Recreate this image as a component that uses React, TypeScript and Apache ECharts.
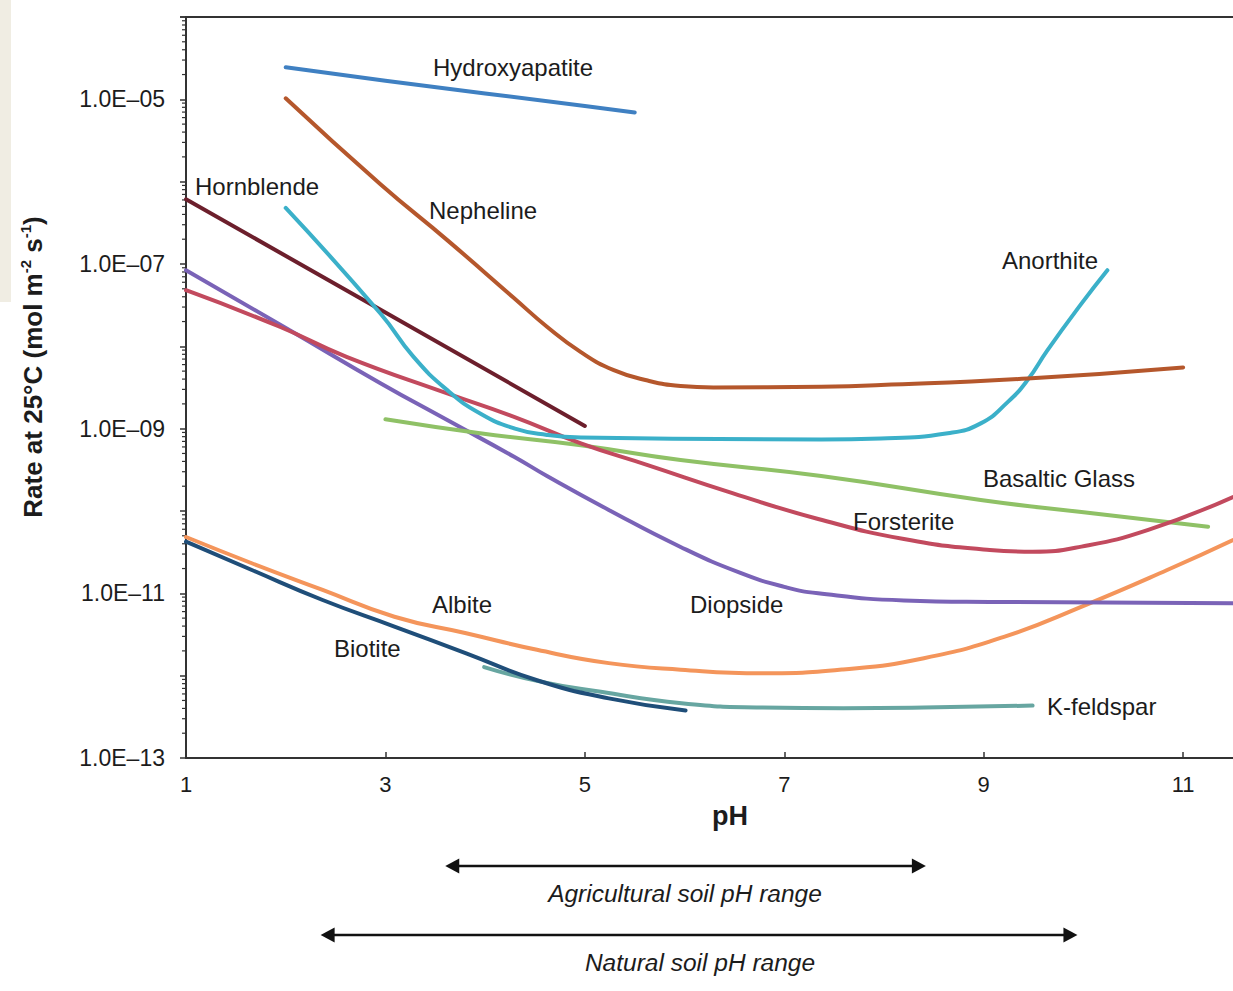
import React, { useEffect, useRef } from "react";
import * as echarts from "echarts";

// ---------- data ----------
const X_TICKS = [1, 3, 5, 7, 9, 11];
const Y_LABEL_EXPONENTS = [-13, -11, -9, -7, -5];
const Y_DECADE_EXPONENTS = [-13, -12, -11, -10, -9, -8, -7, -6, -5];
const Y_MINOR_MULTIPLIERS = [2, 3, 4, 5, 6, 7, 8, 9];

const HYDROXYAPATITE_PH = [2, 3, 4, 5, 5.5];
const HYDROXYAPATITE_RATE = [2.45e-5, 1.68e-5, 1.18e-5, 8.3e-6, 6.9e-6];

const NEPHELINE_PH = [2, 2.95, 3.62, 4.28, 4.62, 4.96, 5.29, 5.63, 5.96, 6.29, 7.37, 7.97, 9.44, 11];
const NEPHELINE_RATE = [1.03e-5, 9.3e-7, 1.95e-7, 3.95e-8, 1.73e-8, 8.5e-9, 5.14e-9, 3.84e-9, 3.3e-9, 3.17e-9, 3.23e-9, 3.38e-9, 4.07e-9, 5.55e-9];

const HORNBLENDE_PH = [1, 3, 5];
const HORNBLENDE_RATE = [6.1e-7, 2.58e-8, 1.08e-9];

const ANORTHITE_PH = [2, 2.95, 3.28, 3.62, 3.95, 4.29, 4.62, 4.96, 7.37, 7.97, 8.64, 8.97, 9.24, 9.44, 9.64, 9.98, 10.24];
const ANORTHITE_RATE = [4.8e-7, 2.5e-8, 7.5e-9, 2.94e-9, 1.53e-9, 1.01e-9, 8.4e-10, 7.8e-10, 7.4e-10, 7.6e-10, 8.8e-10, 1.16e-9, 2.1e-9, 3.9e-9, 9.0e-9, 3.3e-8, 8.4e-8];

const FORSTERITE_PH = [1, 1.94, 2.61, 3.62, 4.29, 4.96, 5.63, 6.48, 7.34, 8.2, 9.06, 9.49, 9.98, 10.65, 11.5];
const FORSTERITE_RATE = [4.8e-8, 1.73e-8, 7.46e-9, 2.68e-9, 1.39e-9, 6.63e-10, 3.61e-10, 1.65e-10, 8.0e-11, 4.57e-11, 3.36e-11, 3.2e-11, 3.69e-11, 5.9e-11, 1.48e-10];

const DIOPSIDE_PH = [1, 2.04, 2.95, 3.62, 4.29, 4.62, 5.24, 5.96, 6.56, 7, 7.34, 8.2, 9.06, 11.5];
const DIOPSIDE_RATE = [8.4e-8, 1.57e-8, 3.57e-9, 1.27e-9, 4.56e-10, 2.66e-10, 1.03e-10, 3.66e-11, 1.77e-11, 1.2e-11, 1.0e-11, 8.2e-12, 7.87e-12, 7.6e-12];

const BASALTIC_GLASS_PH = [3, 3.95, 4.96, 5.96, 7.37, 8.97, 9.98, 11.25];
const BASALTIC_GLASS_RATE = [1.3e-9, 8.8e-10, 6.3e-10, 4.16e-10, 2.66e-10, 1.36e-10, 9.7e-11, 6.45e-11];

const ALBITE_PH = [1, 1.66, 2.37, 3.09, 3.81, 4.52, 5.24, 5.96, 6.78, 7.59, 8.4, 9.21, 10.02, 10.84, 11.5];
const ALBITE_RATE = [4.83e-11, 2.32e-11, 1.1e-11, 5.2e-12, 3.28e-12, 2.06e-12, 1.42e-12, 1.18e-12, 1.07e-12, 1.19e-12, 1.63e-12, 2.98e-12, 7.2e-12, 1.92e-11, 4.45e-11];

const BIOTITE_PH = [1, 1.66, 2.37, 3.09, 3.81, 4.52, 5.24, 6.01];
const BIOTITE_RATE = [4.24e-11, 1.92e-11, 8.3e-12, 3.95e-12, 1.87e-12, 8.8e-13, 5.3e-13, 3.77e-13];

const K_FELDSPAR_PH = [3.99, 4.52, 5.16, 5.97, 6.78, 7.59, 8.4, 9.49];
const K_FELDSPAR_RATE = [1.27e-12, 8.65e-13, 6.36e-13, 4.63e-13, 4.1e-13, 4.03e-13, 4.1e-13, 4.33e-13];

const AGRICULTURAL_RANGE = [3.6, 8.42];
const NATURAL_RANGE = [2.35, 9.94];

// ---------- styles ----------
const FONT = "'Liberation Sans', Arial, Helvetica, sans-serif";
const AXIS_COLOR = "#333333";
const TEXT_COLOR = "#1c1c1c";

const SERIES_DEFS = [
  { name: "K-feldspar", ph: K_FELDSPAR_PH, rate: K_FELDSPAR_RATE, color: "#67a6a1", smooth: 0.5 },
  { name: "Biotite", ph: BIOTITE_PH, rate: BIOTITE_RATE, color: "#1f4e79", smooth: 0.5 },
  { name: "Albite", ph: ALBITE_PH, rate: ALBITE_RATE, color: "#f4955b", smooth: 0.5 },
  { name: "Diopside", ph: DIOPSIDE_PH, rate: DIOPSIDE_RATE, color: "#7a63b7", smooth: 0.5 },
  { name: "Basaltic Glass", ph: BASALTIC_GLASS_PH, rate: BASALTIC_GLASS_RATE, color: "#8fc166", smooth: 0.5 },
  { name: "Forsterite", ph: FORSTERITE_PH, rate: FORSTERITE_RATE, color: "#c24a5e", smooth: 0.5 },
  { name: "Hornblende", ph: HORNBLENDE_PH, rate: HORNBLENDE_RATE, color: "#6c1f2c", smooth: false },
  { name: "Anorthite", ph: ANORTHITE_PH, rate: ANORTHITE_RATE, color: "#3bb0c9", smooth: 0.5 },
  { name: "Nepheline", ph: NEPHELINE_PH, rate: NEPHELINE_RATE, color: "#b5572c", smooth: 0.5 },
  { name: "Hydroxyapatite", ph: HYDROXYAPATITE_PH, rate: HYDROXYAPATITE_RATE, color: "#3f80c2", smooth: false },
];

const LABEL_POSITIONS: Array<[string, number, number]> = [
  ["Hydroxyapatite", 433, 67],
  ["Hornblende", 195, 186],
  ["Nepheline", 429, 210],
  ["Anorthite", 1002, 260],
  ["Basaltic Glass", 983, 478],
  ["Forsterite", 853, 521],
  ["Albite", 432, 604],
  ["Diopside", 690, 604],
  ["Biotite", 334, 648],
  ["K-feldspar", 1047, 706],
];

function formatYLabel(value: number): string {
  const e = Math.round(Math.log10(value));
  if (Y_LABEL_EXPONENTS.indexOf(e) < 0) return "";
  return "1.0E\u2013" + String(-e).padStart(2, "0");
}

export default function App() {
  const ref = useRef<HTMLDivElement>(null);

  useEffect(() => {
    if (!ref.current) return;
    const chart = echarts.init(ref.current, null, { renderer: "svg" });

    const minorTicks: number[][] = [];
    Y_DECADE_EXPONENTS.forEach((e) => {
      Y_MINOR_MULTIPLIERS.forEach((m) => minorTicks.push([1, m * Math.pow(10, e)]));
    });

    const lineSeries = SERIES_DEFS.map((s) => ({
      type: "line",
      name: s.name,
      data: s.ph.map((p, i) => [p, s.rate[i]]),
      showSymbol: false,
      symbol: "none",
      smooth: s.smooth,
      lineStyle: { color: s.color, width: 4, cap: "round", join: "round" },
      itemStyle: { color: s.color },
      silent: true,
      z: 3,
    }));

    const option: any = {
      animation: false,
      backgroundColor: "#ffffff",
      grid: { left: 186, top: 17, width: 1047, height: 741, outerBoundsMode: "none", containLabel: false },
      xAxis: [
        {
          type: "value",
          min: 1,
          max: 11.5,
          interval: 2,
          axisLine: { show: true, onZero: false, lineStyle: { color: AXIS_COLOR, width: 2 } },
          axisTick: {
            show: true,
            inside: true,
            length: 6,
            customValues: X_TICKS,
            lineStyle: { color: AXIS_COLOR, width: 1.5 },
          },
          axisLabel: {
            show: true,
            customValues: X_TICKS,
            margin: 15,
            fontSize: 22,
            fontFamily: FONT,
            color: TEXT_COLOR,
          },
          splitLine: { show: false },
        },
        {
          type: "value",
          position: "top",
          min: 1,
          max: 11.5,
          axisLine: { show: true, onZero: false, lineStyle: { color: AXIS_COLOR, width: 2 } },
          axisTick: { show: false },
          axisLabel: { show: false },
          splitLine: { show: false },
        },
      ],
      yAxis: {
        type: "log",
        logBase: 10,
        min: 1e-13,
        max: 1e-4,
        axisLine: { show: true, onZero: false, lineStyle: { color: AXIS_COLOR, width: 2 } },
        axisTick: { show: true, inside: false, length: 6, lineStyle: { color: AXIS_COLOR, width: 1.5 } },
        axisLabel: {
          show: true,
          margin: 21,
          fontSize: 23,
          fontFamily: FONT,
          color: TEXT_COLOR,
          formatter: formatYLabel,
        },
        splitLine: { show: false },
        minorTick: { show: false },
      },
      series: [
        {
          type: "custom",
          name: "minorTicks",
          silent: true,
          clip: false,
          z: 1,
          data: minorTicks,
          renderItem: (params: any, api: any) => {
            const c = api.coord([api.value(0), api.value(1)]);
            return {
              type: "line",
              shape: { x1: c[0] - 4, y1: c[1], x2: c[0], y2: c[1] },
              style: { stroke: AXIS_COLOR, lineWidth: 1.2 },
            };
          },
        },
        ...lineSeries,
      ],
    };

    chart.setOption(option);

    const px = (v: number) => chart.convertToPixel({ xAxisIndex: 0 }, v) as number;

    const arrow = (range: number[], y: number) => {
      const x1 = px(range[0]);
      const x2 = px(range[1]);
      const head = 14;
      const half = 7.5;
      return [
        {
          type: "line",
          shape: { x1: x1 + head - 2, y1: y, x2: x2 - head + 2, y2: y },
          style: { stroke: "#111111", lineWidth: 2.5 },
          silent: true,
        },
        {
          type: "polygon",
          shape: { points: [[x1, y], [x1 + head, y - half], [x1 + head, y + half]] },
          style: { fill: "#111111" },
          silent: true,
        },
        {
          type: "polygon",
          shape: { points: [[x2, y], [x2 - head, y - half], [x2 - head, y + half]] },
          style: { fill: "#111111" },
          silent: true,
        },
      ];
    };

    const labelGraphics = LABEL_POSITIONS.map(([text, x, y]) => ({
      type: "text",
      x,
      y,
      silent: true,
      style: {
        text,
        fontSize: 24,
        fontFamily: FONT,
        fill: TEXT_COLOR,
        textAlign: "left",
        textVerticalAlign: "middle",
      },
      z: 10,
    }));

    chart.setOption({
      graphic: [
        {
          type: "rect",
          shape: { x: 0, y: 0, width: 11, height: 302 },
          style: { fill: "#f0ede3" },
          silent: true,
          z: 0,
        },
        ...labelGraphics,
        {
          type: "text",
          x: 33,
          y: 367,
          rotation: Math.PI / 2,
          silent: true,
          style: {
            text: "Rate at 25°C (mol m{sup|-2} s{sup|-1})",
            fontSize: 26,
            fontWeight: "bold",
            fontFamily: FONT,
            fill: TEXT_COLOR,
            textAlign: "center",
            textVerticalAlign: "middle",
            rich: {
              sup: {
                fontSize: 15,
                fontWeight: "bold",
                fontFamily: FONT,
                fill: TEXT_COLOR,
                verticalAlign: "top",
                lineHeight: 30,
              },
            },
          },
        },
        {
          type: "text",
          x: 730,
          y: 816,
          silent: true,
          style: {
            text: "pH",
            fontSize: 27,
            fontWeight: "bold",
            fontFamily: FONT,
            fill: TEXT_COLOR,
            textAlign: "center",
            textVerticalAlign: "middle",
          },
        },
        ...arrow(AGRICULTURAL_RANGE, 866),
        {
          type: "text",
          x: 685,
          y: 893,
          silent: true,
          style: {
            text: "Agricultural soil pH range",
            fontSize: 24.5,
            fontStyle: "italic",
            fontFamily: FONT,
            fill: TEXT_COLOR,
            textAlign: "center",
            textVerticalAlign: "middle",
          },
        },
        ...arrow(NATURAL_RANGE, 935),
        {
          type: "text",
          x: 700,
          y: 962,
          silent: true,
          style: {
            text: "Natural soil pH range",
            fontSize: 24.5,
            fontStyle: "italic",
            fontFamily: FONT,
            fill: TEXT_COLOR,
            textAlign: "center",
            textVerticalAlign: "middle",
          },
        },
      ],
    });

    return () => {
      chart.dispose();
    };
  }, []);

  return (
    <div
      ref={ref}
      style={{ position: "absolute", left: 0, top: 0, width: 1233, height: 991, background: "#ffffff" }}
    />
  );
}
